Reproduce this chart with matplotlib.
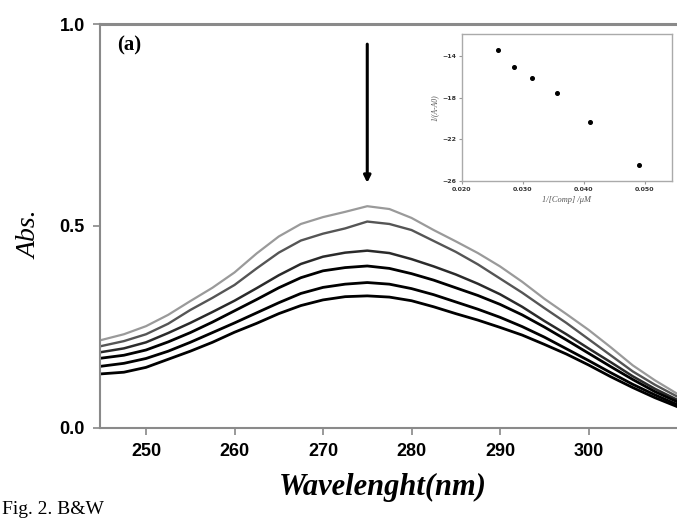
import numpy as np
import matplotlib
matplotlib.use("Agg")
import matplotlib.pyplot as plt

# wavelength grid (nm)
wavelength = [245, 247.5, 250, 252.5, 255, 257.5, 260, 262.5, 265, 267.5, 270, 272.5, 275,
              277.5, 280, 282.5, 285, 287.5, 290, 292.5, 295, 297.5, 300, 302.5, 305, 307.5, 310]

# absorbance spectra, top (no compound) -> bottom (highest conc.)
abs_1 = [0.218, 0.232, 0.252, 0.280, 0.314, 0.347, 0.385, 0.432, 0.474, 0.505, 0.522, 0.535, 0.549,
         0.542, 0.520, 0.490, 0.462, 0.433, 0.400, 0.362, 0.320, 0.282, 0.243, 0.200, 0.155, 0.118, 0.085]
abs_2 = [0.203, 0.215, 0.232, 0.258, 0.292, 0.322, 0.354, 0.395, 0.434, 0.464, 0.481, 0.494, 0.511,
         0.505, 0.490, 0.463, 0.436, 0.405, 0.370, 0.335, 0.297, 0.260, 0.220, 0.180, 0.140, 0.107, 0.078]
abs_3 = [0.188, 0.197, 0.212, 0.235, 0.260, 0.287, 0.315, 0.346, 0.378, 0.406, 0.424, 0.434, 0.439,
         0.433, 0.418, 0.400, 0.380, 0.357, 0.331, 0.300, 0.265, 0.232, 0.197, 0.163, 0.128, 0.097, 0.070]
abs_4 = [0.173, 0.180, 0.193, 0.213, 0.236, 0.262, 0.290, 0.318, 0.347, 0.372, 0.389, 0.397, 0.401,
         0.395, 0.382, 0.366, 0.347, 0.328, 0.306, 0.280, 0.250, 0.218, 0.185, 0.152, 0.120, 0.090, 0.065]
abs_5 = [0.153, 0.160, 0.172, 0.190, 0.212, 0.236, 0.260, 0.285, 0.310, 0.333, 0.348, 0.356, 0.360,
         0.356, 0.345, 0.330, 0.312, 0.294, 0.274, 0.251, 0.225, 0.196, 0.167, 0.137, 0.108, 0.082, 0.058]
abs_6 = [0.134, 0.138, 0.150, 0.170, 0.190, 0.212, 0.237, 0.259, 0.283, 0.303, 0.317, 0.325, 0.327,
         0.324, 0.315, 0.300, 0.283, 0.267, 0.249, 0.230, 0.207, 0.183, 0.156, 0.127, 0.100, 0.075, 0.053]

# inset: double reciprocal plot
inv_conc = [0.0260, 0.0285, 0.0315, 0.0356, 0.0411, 0.0491]
inv_dA = [-13.4, -15.1, -16.1, -17.6, -20.35, -24.5]

x_ticks = [250, 260, 270, 280, 290, 300]
y_ticks = [0.0, 0.5, 1.0]
inset_xticks = [0.020, 0.030, 0.040, 0.050]
inset_yticks = [-14, -18, -22, -26]

tick_font = ["Liberation Sans Narrow", "DejaVu Sans Condensed", "Liberation Sans"]
serif = ["Liberation Serif", "DejaVu Serif"]

fig = plt.figure(figsize=(6.77, 5.2), dpi=100)
ax = fig.add_axes([0.1477, 0.177, 0.8523, 0.7768])

colors = ["#9a9a9a", "#555555", "#2a2a2a", "#000000", "#000000", "#000000"]
widths = [1.6, 1.7, 1.8, 2.0, 2.0, 2.0]
for ys, c, w in zip([abs_1, abs_2, abs_3, abs_4, abs_5, abs_6], colors, widths):
    ax.plot(wavelength, ys, color=c, lw=w, solid_joinstyle="round")

ax.set_xlim(244.8, 310)
ax.set_ylim(0, 1.0)
ax.set_xticks(x_ticks)
ax.set_yticks(y_ticks)
ax.set_yticklabels([f"{v:.1f}" for v in y_ticks])
ax.tick_params(direction="out", length=5, width=1.2, color="#888888", labelsize=13)
ax.tick_params(axis="y", pad=6)
ax.tick_params(axis="x", pad=6)
for lab in ax.get_xticklabels() + ax.get_yticklabels():
    lab.set_family(tick_font)
    lab.set_fontweight("bold")
for s in ["left", "bottom", "top"]:
    ax.spines[s].set_color("#8a8a8a")
    ax.spines[s].set_linewidth(1.5)
ax.spines["top"].set_linewidth(2.2)
ax.spines["right"].set_visible(False)

# arrow showing decrease
ax.annotate("", xy=(275, 0.600), xytext=(275, 0.957),
            arrowprops=dict(arrowstyle="-|>", color="black", lw=2.2, mutation_scale=10))

ax.text(0.029, 0.948, "(a)", transform=ax.transAxes, fontsize=15, fontweight="bold",
        family=serif, va="center", ha="left")

fig.text(0.044, 0.548, "Abs.", rotation=90, fontsize=20, style="italic", family=serif,
         ha="center", va="center")
fig.text(0.566, 0.063, "Wavelenght(nm)", fontsize=22, style="italic", fontweight="bold",
         family=serif, ha="center", va="center")
fig.text(0.003, 0.004, "Fig. 2. B&W", fontsize=14, family=serif, ha="left", va="bottom")

# inset
axi = fig.add_axes([0.682, 0.652, 0.3105, 0.2827])
axi.plot(inv_conc, inv_dA, "o", color="black", ms=2.6)
axi.set_xlim(0.020, 0.0545)
axi.set_ylim(-26, -11.9)
axi.set_xticks(inset_xticks)
axi.set_xticklabels([f"{v:.3f}" for v in inset_xticks])
axi.set_yticks(inset_yticks)
axi.tick_params(direction="out", length=2, width=0.8, color="#999999", labelsize=4.5,
                labelcolor="#333333", pad=2)
for lab in axi.get_xticklabels() + axi.get_yticklabels():
    lab.set_fontweight("bold")
for s in axi.spines.values():
    s.set_color("#aaaaaa")
    s.set_linewidth(1.0)
axi.set_xlabel("1/[Comp] /\u03bcM", fontsize=6, style="italic", family=serif, color="#555555",
               labelpad=3)
axi.set_ylabel("1/(A-A0)", fontsize=5.5, style="italic", family=serif, color="#555555",
               labelpad=2)

fig.savefig("out.png", dpi=100)
